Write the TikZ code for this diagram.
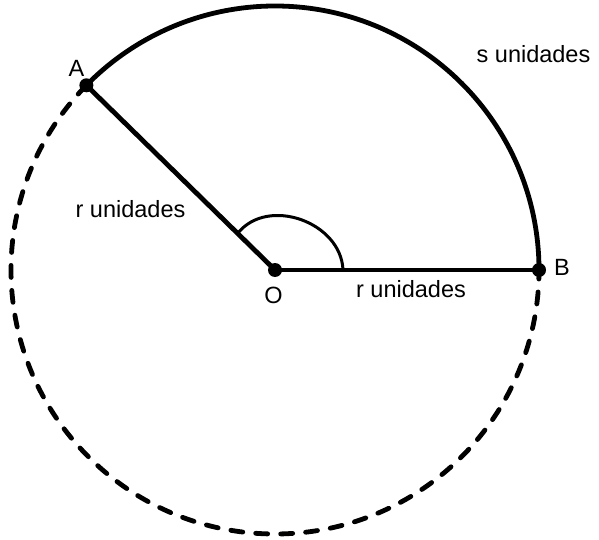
\documentclass[tikz,border=0pt]{standalone}
\usepackage{fontspec}
\setmainfont{Liberation Sans}
\usetikzlibrary{calc}
\begin{document}
\begin{tikzpicture}[x=1pt,y=1pt,
  dot/.style={circle,fill=black,inner sep=0pt,minimum size=14pt},
  lab/.style={anchor=base,inner sep=0pt,font=\fontsize{23.5}{28}\selectfont},
  thickline/.style={line width=4.8pt},
  dashline/.style={line width=4.8pt,line cap=round,dash pattern=on 12pt off 13pt}]
\useasboundingbox (0,0) rectangle (599,539);
\coordinate (Oc) at (275,269);
\node[dot] (O) at (Oc) {};
\node[dot] (B) at ($(Oc)+(264,0)$) {};
\node[dot] (A) at ($(Oc)+(135.6:264)$) {};
% solid arc s
\draw[thickline] (B.center) arc[start angle=0,end angle=135.6,radius=264pt];
% dashed rest
\draw[dashline] (A.center) arc[start angle=135.6,end angle=360,radius=264pt];
% radii
\draw[thickline] (O.center) -- (A.center);
\draw[thickline] (O.center) -- (B.center);
% angle mark
\draw[line width=3pt] (343,269) .. controls (341,317) and (268,343) .. (238,306);
% labels
\node[lab] (lA) at (76.5,462) {A};
\node[lab] (lB) at (562,264) {B};
\node[lab] (lO) at (273.5,236) {O};
\node[lab] (r1) at (130.5,322) {r unidades};
\node[lab] (r2) at (411,242) {r unidades};
\node[lab] (s1) at (533.5,476) {s unidades};
\end{tikzpicture}
\end{document}
